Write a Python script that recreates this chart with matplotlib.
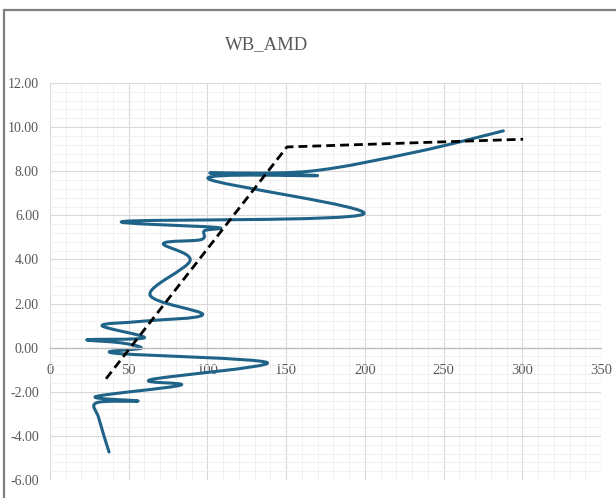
import numpy as np
import matplotlib
matplotlib.use("Agg")
import matplotlib.pyplot as plt
from matplotlib.path import Path
from matplotlib.patches import PathPatch, Rectangle
from matplotlib.ticker import MultipleLocator, FuncFormatter

# profile (x = value, y = level)
profile_x = [37.5, 31, 29.5, 56, 29, 83, 64, 138, 41, 58, 45, 23.5, 60, 33, 59, 97,
             63.5, 89, 72, 96, 98, 106, 47.6, 199, 100.5, 170, 101.5, 165, 233, 288]
profile_y = [-4.73, -3.2, -2.5, -2.42, -2.22, -1.7, -1.45, -0.68, -0.25, -0.02, 0.22,
             0.36, 0.45, 1.0, 1.2, 1.5, 2.4, 3.95, 4.72, 4.9, 5.3, 5.45, 5.73, 6.05,
             7.66, 7.8, 7.92, 8.0, 8.88, 9.83]

# dashed trend
trend_x = [35.6, 150.5, 300.5]
trend_y = [-1.41, 9.1, 9.45]

title = "WB_AMD"
grey = "#595959"
font = ["Liberation Serif", "DejaVu Serif"]


def smooth_path(xs, ys):
    # excel-like smoothed line (catmull-rom as bezier)
    pts = np.column_stack([xs, ys]).astype(float)
    n = len(pts)
    verts = [pts[0]]
    codes = [Path.MOVETO]
    for i in range(n - 1):
        p0 = pts[i - 1] if i > 0 else pts[i]
        p1 = pts[i]
        p2 = pts[i + 1]
        p3 = pts[i + 2] if i + 2 < n else pts[i + 1]
        verts += [p1 + (p2 - p0) / 6.0, p2 - (p3 - p1) / 6.0, p2]
        codes += [Path.CURVE4] * 3
    return Path(verts, codes)


fig = plt.figure(figsize=(6.16, 4.98), dpi=100)
fig.patches.append(Rectangle((4 / 616, -0.1), 1.2, 1 - 10 / 498 + 0.1,
                             transform=fig.transFigure, fill=False,
                             edgecolor="#7f7f7f", lw=1.6))

ax = fig.add_axes([50 / 616, 1 - 480 / 498, 551 / 616, 397 / 498])
ax.set_xlim(0, 350)
ax.set_ylim(-6, 12)

ax.xaxis.set_major_locator(MultipleLocator(50))
ax.xaxis.set_minor_locator(MultipleLocator(10))
ax.yaxis.set_major_locator(MultipleLocator(2))
ax.yaxis.set_minor_locator(MultipleLocator(0.4))
ax.grid(which="major", color="#d9d9d9", lw=0.8)
ax.grid(which="minor", color="#efefef", lw=0.6)
ax.set_axisbelow(True)

for s in ["top", "right", "left"]:
    ax.spines[s].set_visible(False)
ax.spines["bottom"].set_position(("data", 0))
ax.spines["bottom"].set_color("#bfbfbf")
ax.spines["bottom"].set_linewidth(1.0)

ax.yaxis.set_major_formatter(FuncFormatter(lambda v, p: f"{v:.2f}"))
ax.tick_params(which="both", length=0)
ax.tick_params(axis="y", pad=8, labelsize=10, labelcolor=grey)
ax.tick_params(axis="x", pad=12, labelsize=10.5, labelcolor=grey)
for lab in ax.get_xticklabels() + ax.get_yticklabels():
    lab.set_family(font)

ax.add_patch(PathPatch(smooth_path(profile_x, profile_y), fill=False,
                       edgecolor="#1f6388", lw=2.2, capstyle="round",
                       joinstyle="round"))
ax.plot(trend_x, trend_y, color="black", lw=2.0, dashes=(3.2, 1.8))

fig.text(267 / 616, 1 - 45 / 498, title, ha="center", va="center",
         fontsize=13.5, color=grey, family=font)

fig.savefig("out.png", dpi=100)
